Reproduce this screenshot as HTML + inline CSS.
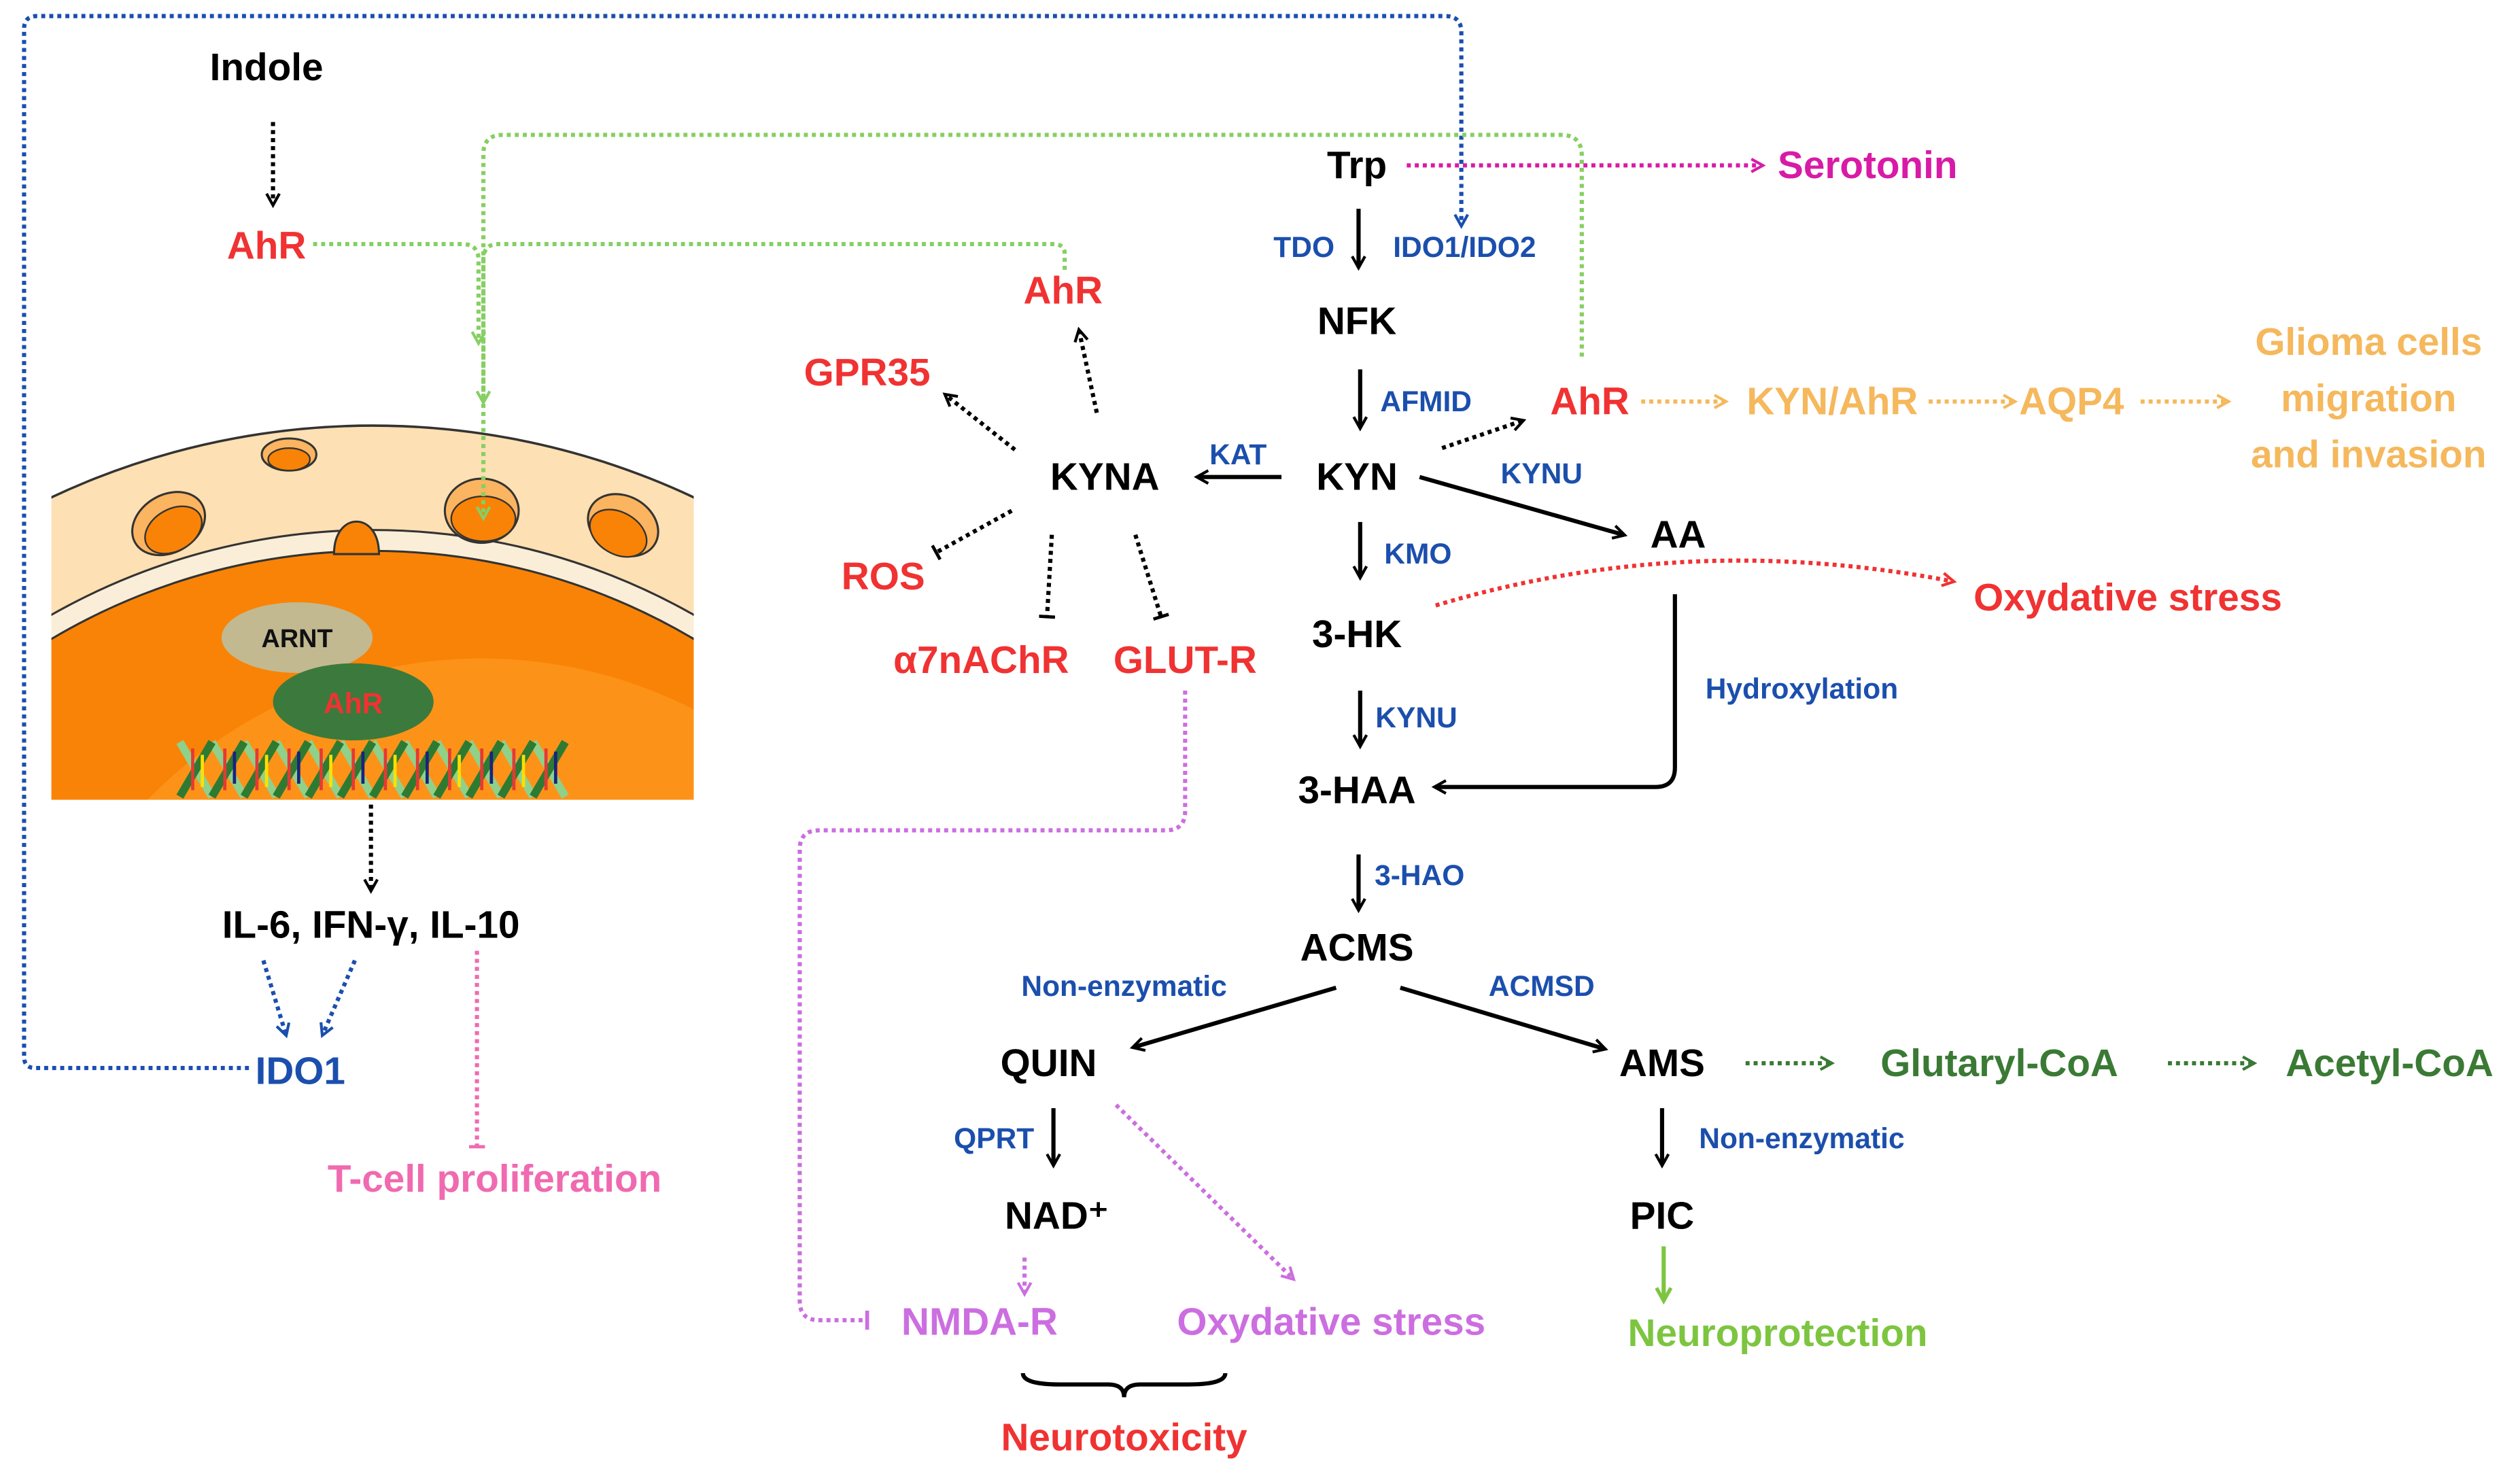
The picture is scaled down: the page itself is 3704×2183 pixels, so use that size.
<!DOCTYPE html>
<html><head><meta charset="utf-8"><style>html,body{margin:0;padding:0;background:#fff;width:3704px;height:2183px;overflow:hidden}svg{display:block}</style></head>
<body>
<svg width="3704" height="2183" viewBox="0 0 1568 924" preserveAspectRatio="none" xmlns="http://www.w3.org/2000/svg" font-family="Liberation Sans, sans-serif" font-weight="bold" text-anchor="middle">
<defs>
<marker id="mk" viewBox="0 0 10 10" refX="8" refY="5" markerWidth="8" markerHeight="8" orient="auto" markerUnits="userSpaceOnUse" style="overflow:visible"><path d="M0,0 L9,5 L0,10" fill="none" stroke="#000" stroke-width="2.2"/></marker>
<marker id="mb" viewBox="0 0 10 10" refX="8" refY="5" markerWidth="8" markerHeight="8" orient="auto" markerUnits="userSpaceOnUse" style="overflow:visible"><path d="M0,0 L9,5 L0,10" fill="none" stroke="#1b4fad" stroke-width="2.2"/></marker>
<marker id="mg" viewBox="0 0 10 10" refX="8" refY="5" markerWidth="8" markerHeight="8" orient="auto" markerUnits="userSpaceOnUse" style="overflow:visible"><path d="M0,0 L9,5 L0,10" fill="none" stroke="#86cf63" stroke-width="2.2"/></marker>
<marker id="mdg" viewBox="0 0 10 10" refX="8" refY="5" markerWidth="8" markerHeight="8" orient="auto" markerUnits="userSpaceOnUse" style="overflow:visible"><path d="M0,0 L9,5 L0,10" fill="none" stroke="#3a7a35" stroke-width="2.2"/></marker>
<marker id="mm" viewBox="0 0 10 10" refX="8" refY="5" markerWidth="8" markerHeight="8" orient="auto" markerUnits="userSpaceOnUse" style="overflow:visible"><path d="M0,0 L9,5 L0,10" fill="none" stroke="#d81ba6" stroke-width="2.2"/></marker>
<marker id="mr" viewBox="0 0 10 10" refX="8" refY="5" markerWidth="8" markerHeight="8" orient="auto" markerUnits="userSpaceOnUse" style="overflow:visible"><path d="M0,0 L9,5 L0,10" fill="none" stroke="#f03232" stroke-width="2.2"/></marker>
<marker id="mo" viewBox="0 0 10 10" refX="8" refY="5" markerWidth="8" markerHeight="8" orient="auto" markerUnits="userSpaceOnUse" style="overflow:visible"><path d="M0,0 L9,5 L0,10" fill="none" stroke="#f5b85c" stroke-width="2.2"/></marker>
<marker id="mv" viewBox="0 0 10 10" refX="8" refY="5" markerWidth="8" markerHeight="8" orient="auto" markerUnits="userSpaceOnUse" style="overflow:visible"><path d="M0,0 L9,5 L0,10" fill="none" stroke="#cc6ee0" stroke-width="2.2"/></marker>
<marker id="mlg" viewBox="0 0 10 10" refX="9" refY="5" markerWidth="9" markerHeight="9" orient="auto" markerUnits="userSpaceOnUse" style="overflow:visible"><path d="M0,0 L9,5 L0,10" fill="none" stroke="#7dc540" stroke-width="2.5"/></marker>
<marker id="tk" viewBox="0 0 10 10" refX="5" refY="5" markerWidth="10" markerHeight="10" orient="auto" markerUnits="userSpaceOnUse"><path d="M5,0 L5,10" stroke="#000" stroke-width="2"/></marker>
<marker id="tp" viewBox="0 0 10 10" refX="5" refY="5" markerWidth="10" markerHeight="10" orient="auto" markerUnits="userSpaceOnUse"><path d="M5,0 L5,10" stroke="#f06ab0" stroke-width="2"/></marker>
<marker id="tv" viewBox="0 0 10 10" refX="5" refY="5" markerWidth="12" markerHeight="12" orient="auto" markerUnits="userSpaceOnUse"><path d="M5,0 L5,10" stroke="#cc6ee0" stroke-width="2"/></marker>
<clipPath id="cc"><rect x="32" y="262" width="400" height="236"/></clipPath>
</defs>

<g clip-path="url(#cc)">
<rect x="32" y="262" width="400" height="236" fill="#fff"/>
<circle cx="232" cy="735" r="470" fill="#fde0b3" stroke="#333" stroke-width="1.5"/>
<circle cx="232" cy="735" r="405" fill="#fbeed8" stroke="#333" stroke-width="1.3"/>
<circle cx="232" cy="735" r="392" fill="#f98307" stroke="#333" stroke-width="1.3"/>
<path d="M208,345 C208,318 236,318 236,345 Z" fill="#f98307" stroke="#333" stroke-width="1.3"/>
<circle cx="300" cy="700" r="290" fill="#fc9318"/>
<ellipse cx="180" cy="283" rx="17" ry="10" fill="#fbb460" stroke="#333" stroke-width="1.3"/>
<ellipse cx="180" cy="286" rx="13" ry="7" fill="#f98307" stroke="#333" stroke-width="1"/>
<ellipse cx="105" cy="326" rx="24" ry="18" transform="rotate(-30 105 326)" fill="#fbb460" stroke="#333" stroke-width="1.3"/>
<ellipse cx="108" cy="330" rx="19" ry="13" transform="rotate(-30 108 330)" fill="#f98307" stroke="#333" stroke-width="1"/>
<ellipse cx="300" cy="318" rx="23" ry="20" fill="#fbb460" stroke="#333" stroke-width="1.3"/>
<ellipse cx="301" cy="323" rx="20" ry="14" fill="#f98307" stroke="#333" stroke-width="1"/>
<ellipse cx="388" cy="327" rx="23" ry="18" transform="rotate(30 388 327)" fill="#fbb460" stroke="#333" stroke-width="1.3"/>
<ellipse cx="385" cy="332" rx="19" ry="13" transform="rotate(30 385 332)" fill="#f98307" stroke="#333" stroke-width="1"/>
<g stroke-width="5">
<path d="M112,462 L132,496 M132,462 L152,496 M152,462 L172,496 M172,462 L192,496 M192,462 L212,496 M212,462 L232,496 M232,462 L252,496 M252,462 L272,496 M272,462 L292,496 M292,462 L312,496 M312,462 L332,496 M332,462 L352,496" stroke="#8fd18a"/>
<path d="M132,462 L112,496 M152,462 L132,496 M172,462 L152,496 M192,462 L172,496 M212,462 L192,496 M232,462 L212,496 M252,462 L232,496 M272,462 L252,496 M292,462 L272,496 M312,462 L292,496 M332,462 L312,496 M352,462 L332,496" stroke="#2f7a32"/>
</g>
<g stroke-width="2"><path d="M120,466 V492 M140,466 V492 M160,466 V492 M180,466 V492 M200,466 V492 M220,466 V492 M240,466 V492 M260,466 V492 M280,466 V492 M300,466 V492 M320,466 V492 M340,466 V492" stroke="#e53935"/><path d="M126,470 V490 M166,470 V490 M206,470 V490 M246,470 V490 M286,470 V490 M326,470 V490" stroke="#ffe000"/><path d="M146,468 V488 M186,468 V488 M226,468 V488 M266,468 V488 M306,468 V488 M346,468 V488" stroke="#1a237e"/></g>
<ellipse cx="185" cy="397" rx="47" ry="22" fill="#c2b991"/>
<ellipse cx="220" cy="437" rx="50" ry="24" fill="#3b7a3c"/>
</g>
<text x="185" y="403" font-size="16" fill="#111">ARNT</text>
<text x="220" y="444" font-size="18" fill="#f03232">AhR</text>

<g fill="none" stroke-width="2.6" stroke-dasharray="2.5 2.5">
<path d="M155,665 H22 Q15,665 15,658 V18 Q15,10 23,10 H900 Q910,10 910,20 V140" stroke="#1b4fad" marker-end="url(#mb)"/>
<path d="M195,152 H288 Q298,152 298,162 V213" stroke="#86cf63" marker-end="url(#mg)"/>
<path d="M663,168 V158 Q663,152 656,152 H310 Q301,152 301,162 V250" stroke="#86cf63" marker-end="url(#mg)"/>
<path d="M985,222 V97 Q985,84 972,84 H313 Q301,84 301,96 V322" stroke="#86cf63" marker-end="url(#mg)"/>
<path d="M170,76 V127" stroke="#000" marker-end="url(#mk)"/>
<path d="M231,501 V554" stroke="#000" marker-end="url(#mk)"/>
<path d="M164,598 L178,644" stroke="#1b4fad" marker-end="url(#mb)"/>
<path d="M221,598 L201,644" stroke="#1b4fad" marker-end="url(#mb)"/>
<path d="M297,592 V714" stroke="#f06ab0" marker-end="url(#tp)"/>
<path d="M876,103 H1097" stroke="#d81ba6" marker-end="url(#mm)"/>
<path d="M898,279 L948,262" stroke="#000" marker-end="url(#mk)"/>
<path d="M632,280 L589,246" stroke="#000" marker-end="url(#mk)"/>
<path d="M683,257 L672,206" stroke="#000" marker-end="url(#mk)"/>
<path d="M630,318 L583,344" stroke="#000" marker-end="url(#tk)"/>
<path d="M655,333 L652,384" stroke="#000" marker-end="url(#tk)"/>
<path d="M707,333 L723,384" stroke="#000" marker-end="url(#tk)"/>
<path d="M894,377 Q1050,330 1216,362" stroke="#f03232" marker-end="url(#mr)"/>
<path d="M1022,250 H1074" stroke="#f5b85c" marker-end="url(#mo)"/>
<path d="M1201,250 H1254" stroke="#f5b85c" marker-end="url(#mo)"/>
<path d="M1333,250 H1387" stroke="#f5b85c" marker-end="url(#mo)"/>
<path d="M1087,662 H1140" stroke="#3a7a35" marker-end="url(#mdg)"/>
<path d="M1350,662 H1403" stroke="#3a7a35" marker-end="url(#mdg)"/>
<path d="M738,430 V505 Q738,517 726,517 H510 Q498,517 498,529 V810 Q498,822 510,822 H540" stroke="#cc6ee0" marker-end="url(#tv)"/>
<path d="M638,783 V805" stroke="#cc6ee0" marker-end="url(#mv)"/>
<path d="M695,688 L805,796" stroke="#cc6ee0" marker-end="url(#mv)"/>
</g>

<g fill="none" stroke="#000" stroke-width="2.6">
<path d="M846,130 V166" marker-end="url(#mk)"/>
<path d="M847,230 V266" marker-end="url(#mk)"/>
<path d="M798,297 H746" marker-end="url(#mk)"/>
<path d="M884,297 L1011,333" marker-end="url(#mk)"/>
<path d="M847,325 V359" marker-end="url(#mk)"/>
<path d="M1043,370 V478 Q1043,490 1031,490 H894" marker-end="url(#mk)"/>
<path d="M847,430 V464" marker-end="url(#mk)"/>
<path d="M846,532 V566" marker-end="url(#mk)"/>
<path d="M832,615 L706,652" marker-end="url(#mk)"/>
<path d="M872,615 L999,653" marker-end="url(#mk)"/>
<path d="M656,690 V725" marker-end="url(#mk)"/>
<path d="M1035,690 V725" marker-end="url(#mk)"/>
<path d="M637,855 Q637,862 660,862 L690,862 Q700,862 700,870 Q700,862 710,862 L740,862 Q763,862 763,855"/>
</g>
<path d="M1036,776 V810" fill="none" stroke="#7dc540" stroke-width="2.6" marker-end="url(#mlg)"/>

<g font-size="24" fill="#000">
<text x="166" y="50">Indole</text>
<text x="231" y="584">IL-6, IFN-γ, IL-10</text>
<text x="845" y="111">Trp</text>
<text x="845" y="208">NFK</text>
<text x="845" y="305">KYN</text>
<text x="688" y="305">KYNA</text>
<text x="1045" y="341">AA</text>
<text x="845" y="403">3-HK</text>
<text x="845" y="500">3-HAA</text>
<text x="845" y="598">ACMS</text>
<text x="653" y="670">QUIN</text>
<text x="1035" y="670">AMS</text>
<text x="658" y="765">NAD⁺</text>
<text x="1035" y="765">PIC</text>
</g>
<g font-size="24" fill="#f03232">
<text x="166" y="161">AhR</text>
<text x="662" y="189">AhR</text>
<text x="540" y="240">GPR35</text>
<text x="550" y="367">ROS</text>
<text x="611" y="419">α7nAChR</text>
<text x="738" y="419">GLUT-R</text>
<text x="990" y="258">AhR</text>
<text x="1325" y="380">Oxydative stress</text>
<text x="700" y="903">Neurotoxicity</text>
</g>
<g font-size="18" fill="#1b4fad">
<text x="812" y="160">TDO</text>
<text x="912" y="160">IDO1/IDO2</text>
<text x="888" y="256">AFMID</text>
<text x="771" y="289">KAT</text>
<text x="960" y="301">KYNU</text>
<text x="883" y="351">KMO</text>
<text x="1122" y="435">Hydroxylation</text>
<text x="882" y="453">KYNU</text>
<text x="884" y="551">3-HAO</text>
<text x="700" y="620">Non-enzymatic</text>
<text x="960" y="620">ACMSD</text>
<text x="619" y="715">QPRT</text>
<text x="1122" y="715">Non-enzymatic</text>
</g>
<text x="187" y="675" font-size="24" fill="#1b4fad">IDO1</text>
<text x="308" y="742" font-size="24" fill="#f06ab0">T-cell proliferation</text>
<text x="1163" y="111" font-size="24" fill="#d81ba6">Serotonin</text>
<g font-size="24" fill="#f5b85c">
<text x="1141" y="258">KYN/AhR</text>
<text x="1290" y="258">AQP4</text>
<text x="1475" y="221">Glioma cells</text>
<text x="1475" y="256">migration</text>
<text x="1475" y="291">and invasion</text>
</g>
<g font-size="24" fill="#3a7a35">
<text x="1245" y="670">Glutaryl-CoA</text>
<text x="1488" y="670">Acetyl-CoA</text>
</g>
<text x="1107" y="838" font-size="24" fill="#7dc540">Neuroprotection</text>
<g font-size="24" fill="#cc6ee0">
<text x="610" y="831">NMDA-R</text>
<text x="829" y="831">Oxydative stress</text>
</g>
</svg>
</body></html>
